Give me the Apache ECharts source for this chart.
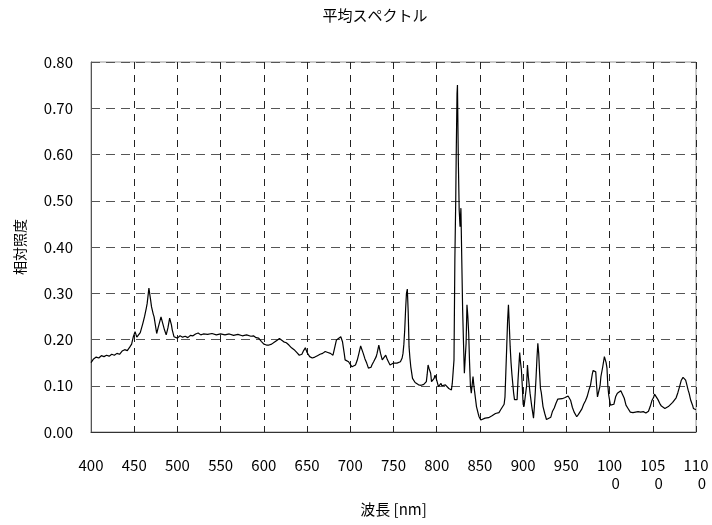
<!DOCTYPE html>
<html>
<head>
<meta charset="utf-8">
<script src="https://cdn.jsdelivr.net/npm/echarts@6/dist/echarts.min.js"></script>
<style>html,body{margin:0;padding:0;background:#fff;}#c{width:712px;height:525px;}</style>
</head>
<body>
<div id="c"></div>
<script>
const titleText = '平均スペクトル';
const xAxisName = '波長 [nm]';
const yAxisName = '相対照度';
const xTickLabels = ['400','450','500','550','600','650','700','750','800','850','900','950','100\n0','105\n0','110\n0'];
const yTickLabels = ['0.00','0.10','0.20','0.30','0.40','0.50','0.60','0.70','0.80'];

const wavelengths = [400,403,406,409,412,415,418,421,424,427,430,433,436,439,442,445,447,449,451,453,455,457,460,462,464,465,467,469,470,472,473,475,476,478,481,483,485,487,489,491,493,494,496,498,500,503,506,509,512,515,518,521,524,527,530,535,540,545,550,555,560,565,570,575,580,585,588,591,594,597,600,603,606,609,612,615,618,620,623,626,629,632,635,638,641,644,646,648,650,653,656,659,662,665,668,671,674,677,680,682,684,686,689,691,693,694,696,698,700,702,704,706,708,710,712,713,715,717,719,721,722,724,725,727,730,731,733,735,737,739,741,743,746,748,750,752,754,756,758,760,761,762,763,764,765,766,767,768,769,770,772,775,777,779,782,785,787,788,789,790,791,793,794,795,797,798,799,800,802,803,805,806,808,810,811,812,814,816,817,818,819,820,821,822,822.5,823.5,824,825,826,827,828,829,830,831,832,833,834,835,836,837,838,839,840,841,842,843,844,845,846,848,849,851,853,856,858,860,862,864,866,868,870,872,874,876,878,879,880,881,882,883,884,885,886,887,889,890,892,893,894,896,897,898,899,900,901,903,904,905,906,908,910,912,913,914,915,916,917,918,919,920,921,923,925,927,929,932,934,936,938,940,942,945,948,950,952,953,955,957,959,962,964,966,968,970,972,974,976,978,980,981,983,984,985,986,988,989,990,992,994,996,997,998,999,1001,1003,1005,1007,1009,1011,1013,1015,1017,1019,1021,1024,1027,1030,1033,1036,1039,1042,1045,1047,1049,1051,1052,1054,1056,1058,1060,1062,1064,1066,1068,1070,1073,1075,1077,1079,1081,1083,1085,1086,1088,1089,1091,1092,1094,1096,1097,1100];
const intensity = [0.150,0.158,0.162,0.160,0.165,0.163,0.166,0.164,0.168,0.166,0.170,0.168,0.175,0.178,0.176,0.184,0.190,0.206,0.217,0.205,0.203,0.215,0.235,0.250,0.268,0.278,0.311,0.285,0.271,0.255,0.249,0.225,0.213,0.228,0.249,0.235,0.221,0.210,0.225,0.246,0.232,0.221,0.206,0.204,0.203,0.208,0.205,0.207,0.204,0.209,0.208,0.212,0.214,0.210,0.212,0.211,0.213,0.210,0.212,0.210,0.212,0.209,0.211,0.208,0.210,0.207,0.208,0.204,0.203,0.196,0.190,0.188,0.188,0.190,0.194,0.198,0.202,0.200,0.195,0.193,0.188,0.182,0.178,0.172,0.166,0.168,0.176,0.182,0.172,0.163,0.160,0.162,0.165,0.168,0.170,0.174,0.172,0.170,0.166,0.168,0.199,0.203,0.206,0.195,0.170,0.156,0.154,0.152,0.146,0.141,0.144,0.145,0.155,0.170,0.186,0.182,0.170,0.158,0.149,0.138,0.134,0.140,0.145,0.152,0.163,0.170,0.188,0.170,0.156,0.160,0.166,0.156,0.145,0.147,0.149,0.148,0.149,0.150,0.152,0.160,0.170,0.190,0.221,0.265,0.300,0.309,0.260,0.184,0.160,0.141,0.116,0.107,0.104,0.102,0.101,0.103,0.104,0.109,0.125,0.145,0.138,0.127,0.109,0.112,0.116,0.123,0.118,0.112,0.098,0.100,0.105,0.100,0.098,0.102,0.105,0.098,0.094,0.092,0.091,0.105,0.130,0.156,0.372,0.500,0.588,0.732,0.750,0.588,0.480,0.444,0.484,0.372,0.264,0.192,0.127,0.160,0.192,0.275,0.250,0.213,0.150,0.100,0.084,0.102,0.120,0.100,0.085,0.070,0.055,0.040,0.033,0.026,0.027,0.030,0.028,0.031,0.030,0.035,0.037,0.040,0.039,0.042,0.048,0.052,0.060,0.076,0.130,0.184,0.240,0.275,0.230,0.184,0.150,0.125,0.084,0.070,0.066,0.070,0.110,0.172,0.150,0.134,0.100,0.060,0.055,0.056,0.100,0.145,0.120,0.084,0.055,0.030,0.055,0.085,0.120,0.160,0.192,0.170,0.130,0.095,0.085,0.055,0.040,0.027,0.028,0.032,0.045,0.052,0.062,0.071,0.073,0.072,0.074,0.076,0.078,0.076,0.068,0.053,0.043,0.033,0.038,0.044,0.050,0.060,0.067,0.076,0.090,0.102,0.125,0.133,0.134,0.130,0.100,0.076,0.076,0.100,0.120,0.140,0.163,0.150,0.138,0.100,0.080,0.058,0.057,0.060,0.076,0.084,0.087,0.089,0.087,0.073,0.058,0.052,0.043,0.042,0.043,0.044,0.043,0.044,0.041,0.045,0.055,0.068,0.075,0.082,0.078,0.070,0.062,0.056,0.052,0.051,0.052,0.055,0.058,0.064,0.068,0.074,0.085,0.098,0.112,0.118,0.121,0.112,0.105,0.090,0.084,0.068,0.058,0.051,0.048];

const seriesData = wavelengths.map((w, i) => [w, intensity[i]]);
const font = '"Noto Sans CJK JP", "Noto Sans", sans-serif';

const chart = echarts.init(document.getElementById('c'), null, {renderer: 'canvas'});
chart.setOption({
  animation: false,
  backgroundColor: '#ffffff',
  title: {
    text: titleText,
    left: 370, top: 3,
    textAlign: 'center',
    textStyle: {fontFamily: font, fontSize: 15, fontWeight: 'normal', color: '#000'}
  },
  grid: {left: 91, right: 16, top: 62, bottom: 93, show: true, borderColor: '#999', borderWidth: 1},
  xAxis: {
    type: 'value', min: 400, max: 1100, interval: 50,
    name: xAxisName, nameLocation: 'middle', nameGap: 70,
    nameTextStyle: {fontFamily: font, fontSize: 15, color: '#000'},
    axisLine: {show: true, onZero: false, lineStyle: {color: '#333', width: 1}},
    axisTick: {show: false},
    axisLabel: {
      margin: 24, fontFamily: font, fontSize: 15, color: '#000', lineHeight: 18,
      formatter: v => {
        const s = xTickLabels[Math.round((v - 400) / 50)];
        if (s.indexOf('\n') >= 0) { const p = s.split('\n'); return p[0] + '\n{r|' + p[1] + '}'; }
        return s;
      },
      rich: {r: {fontFamily: font, fontSize: 15, color: '#000', padding: [0, 0, 0, 12]}}
    },
    splitLine: {show: true, lineStyle: {color: '#222', type: [7, 6], width: 1}}
  },
  yAxis: {
    type: 'value', min: 0, max: 0.8, interval: 0.1,
    name: yAxisName, nameLocation: 'middle', nameGap: 64, nameRotate: 90,
    nameTextStyle: {fontFamily: font, fontSize: 14, color: '#000'},
    axisLine: {show: true, lineStyle: {color: '#555', width: 1}},
    axisTick: {show: false},
    axisLabel: {
      margin: 18, fontFamily: font, fontSize: 15, color: '#000',
      formatter: v => yTickLabels[Math.round(v * 10)]
    },
    splitLine: {show: true, lineStyle: {color: '#555', type: [9, 6], width: 1}}
  },
  series: [{
    type: 'line', data: seriesData, showSymbol: false, symbol: 'none',
    lineStyle: {color: '#000', width: 1.2}, silent: true
  }]
});
</script>
</body>
</html>
